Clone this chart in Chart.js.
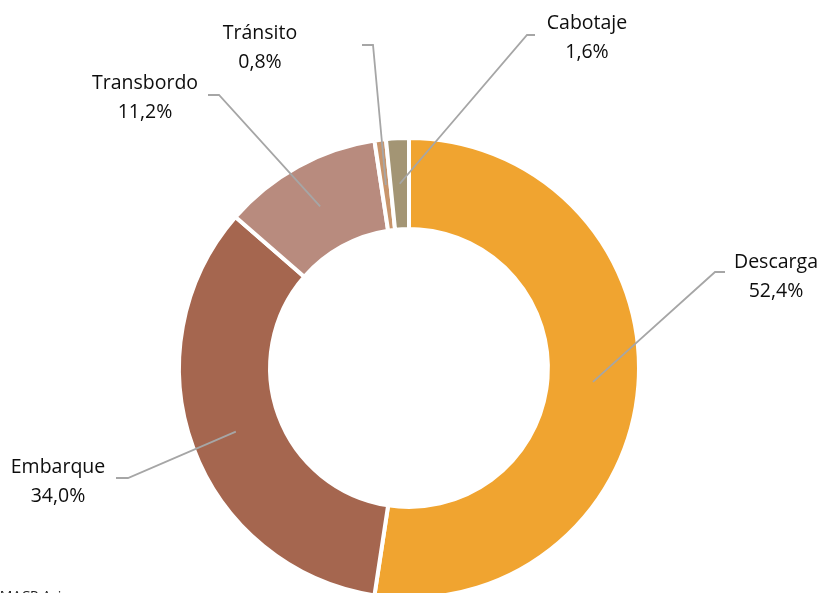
<!DOCTYPE html>
<html>
<head>
<meta charset="utf-8">
<script src="https://cdn.jsdelivr.net/npm/chart.js@4"></script>
<style>
  html, body { margin: 0; padding: 0; background: #fff; overflow: hidden; width: 822px; height: 593px; }
  #wrap { position: relative; width: 822px; height: 593px; overflow: hidden; }
  #chart { position: absolute; left: 0; top: 0; }
  #note { position: absolute; left: -9px; top: 586px; font: 14px "Open Sans", sans-serif; color: #222; white-space: nowrap; }
</style>
</head>
<body>
<div id="wrap">
  <canvas id="chart" width="822" height="640"></canvas>
  <div id="note">AMACP Asia</div>
</div>
<script>
// Data
const categories = ["Descarga", "Embarque", "Transbordo", "Tránsito", "Cabotaje"];
const shares = [52.4, 34.0, 11.2, 0.8, 1.6];
const colors = ["#F0A430", "#A5664F", "#B88B7E", "#C8956B", "#A39574"];

// Label placement (elbow of leader line, end of horizontal stub, text centre)
const labelLayout = [
  { ex: 715, ey: 272, hx: 725, tx: 776, ty: 262 },
  { ex: 128, ey: 478, hx: 116, tx: 58,  ty: 467 },
  { ex: 219, ey: 95,  hx: 208, tx: 145, ty: 83 },
  { ex: 373, ey: 45,  hx: 362, tx: 260, ty: 33 },
  { ex: 527, ey: 35,  hx: 535, tx: 587, ty: 23 }
];

const fmt = v => v.toFixed(1).replace(".", ",") + "%";

// Leader lines + labels
const leaderLabels = {
  id: "leaderLabels",
  afterDatasetsDraw(chart) {
    const ctx = chart.ctx;
    const arcs = chart.getDatasetMeta(0).data;
    ctx.save();
    arcs.forEach((arc, i) => {
      const p = arc.getProps(["x", "y", "startAngle", "endAngle", "innerRadius", "outerRadius"], true);
      const a = (p.startAngle + p.endAngle) / 2;
      const r = (p.innerRadius + p.outerRadius) / 2;
      const sx = p.x + Math.cos(a) * r;
      const sy = p.y + Math.sin(a) * r;
      const L = labelLayout[i];

      ctx.strokeStyle = "#A6A6A6";
      ctx.lineWidth = 1.8;
      ctx.beginPath();
      ctx.moveTo(sx, sy);
      ctx.lineTo(L.ex, L.ey);
      ctx.lineTo(L.hx, L.ey);
      ctx.stroke();

      ctx.fillStyle = "#0d0d0d";
      ctx.font = '19.5px "Open Sans", sans-serif';
      ctx.textAlign = "center";
      ctx.textBaseline = "middle";
      ctx.fillText(categories[i], L.tx, L.ty);
      ctx.fillText(fmt(shares[i]), L.tx, L.ty + 29);
    });
    ctx.restore();
  }
};

new Chart(document.getElementById("chart").getContext("2d"), {
  type: "doughnut",
  data: {
    labels: categories,
    datasets: [{
      data: shares,
      backgroundColor: colors,
      borderColor: "#ffffff",
      borderWidth: 4,
      hoverOffset: 0
    }]
  },
  options: {
    responsive: false,
    devicePixelRatio: 1,
    animation: false,
    cutout: "60.4%",
    events: [],
    layout: { padding: { top: 136, left: 177, right: 181, bottom: 40 } },
    plugins: {
      legend: { display: false },
      tooltip: { enabled: false }
    }
  },
  plugins: [leaderLabels]
});
</script>
</body>
</html>
